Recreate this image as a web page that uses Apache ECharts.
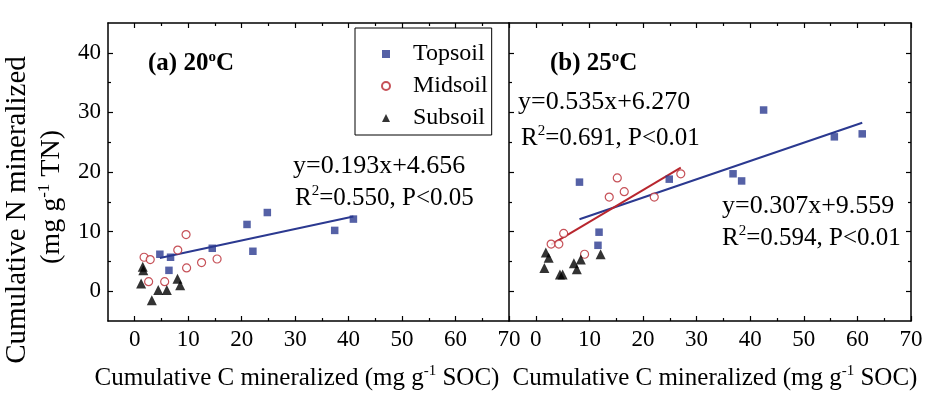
<!DOCTYPE html>
<html>
<head>
<meta charset="utf-8">
<script src="https://cdn.jsdelivr.net/npm/echarts@6/dist/echarts.min.js"></script>
<style>
html, body { margin: 0; padding: 0; background: #fff; }
#chart { width: 935px; height: 398px; }
</style>
</head>
<body>
<div id="chart"></div>
<script>
// tick positions
var xTicks = [0, 10, 20, 30, 40, 50, 60, 70];
var xMinor = [5, 15, 25, 35, 45, 55, 65];
var yTicks = [0, 10, 20, 30, 40];
var yMinor = [5, 15, 25, 35];

// (a) 20 C
var topA = [[4.7, 6.2], [6.7, 5.7], [6.4, 3.5], [14.5, 7.2], [21.0, 11.2], [24.8, 13.2], [22.1, 6.7], [37.4, 10.2], [40.9, 12.1]];
var midA = [[1.75, 5.7], [2.9, 5.3], [2.6, 1.6], [5.6, 1.6], [8.05, 6.9], [9.6, 9.5], [9.7, 3.9], [12.5, 4.8], [15.4, 5.4]];
var subA = [[1.5, 4.1], [1.6, 3.5], [1.2, 1.3], [3.2, -1.5], [4.4, 0.2], [6.0, 0.2], [8.0, 2.1], [8.5, 1.0]];

// (b) 25 C
var topB = [[8.15, 18.3], [11.8, 9.9], [11.6, 7.7], [24.9, 18.8], [42.5, 30.4], [55.7, 25.9], [60.9, 26.4], [36.8, 19.7], [38.4, 18.5]];
var midB = [[2.86, 7.9], [4.3, 7.9], [5.2, 9.7], [9.1, 6.2], [13.7, 15.8], [15.2, 19.0], [16.5, 16.7], [22.1, 15.8], [27.05, 19.7]];
var subB = [[1.87, 6.5], [2.4, 5.6], [1.6, 3.9], [4.5, 2.8], [5.0, 2.8], [7.1, 4.7], [7.65, 3.7], [8.4, 5.3], [12.1, 6.2]];

// fitted lines: slope, intercept, x from, x to
var fitA = [0.193, 4.656, 4.7, 40.9];
var fitBTop = [0.307, 9.559, 8.15, 60.9];
var fitBMid = [0.535, 6.270, 2.86, 27.05];

var serif = '"Liberation Serif", "Times New Roman", Times, serif';
var blue = '#2B3990';
var red = '#B8262E';

function fitLine(f) {
	return [[f[2], f[0] * f[2] + f[1]], [f[3], f[0] * f[3] + f[1]]];
}

function axis(grid, pos, range, ticks, len, showLine, labels) {
	return {
		type: 'value', gridIndex: grid, position: pos,
		min: range[0], max: range[1], interval: 5,
		axisLine: { show: showLine, onZero: false, lineStyle: { color: '#000', width: 1.5 } },
		axisTick: { show: true, inside: true, length: len, customValues: ticks, lineStyle: { color: '#000', width: 1.2 } },
		axisLabel: {
			show: !!labels, customValues: labels || ticks, margin: 7,
			color: '#000', fontFamily: serif, fontSize: 23
		},
		splitLine: { show: false }
	};
}

var xr = [-5, 70], yr = [-5, 45];
var xAxes = [], yAxes = [];
[0, 1].forEach(function(g) {
	xAxes.push(axis(g, 'bottom', xr, xTicks, 5, true, xTicks));
	xAxes.push(axis(g, 'bottom', xr, xMinor, 3, false));
	xAxes.push(axis(g, 'top', xr, xTicks, 5, true));
	xAxes.push(axis(g, 'top', xr, xMinor, 3, false));
	yAxes.push(axis(g, 'left', yr, yTicks, 5, true, g === 0 ? yTicks : null));
	yAxes.push(axis(g, 'left', yr, yMinor, 3, false));
	var r1 = axis(g, 'right', yr, yTicks, 5, true);
	var r2 = axis(g, 'right', yr, yMinor, 3, false);
	if (g === 0) { r1.show = false; r2.show = false; }
	yAxes.push(r1);
	yAxes.push(r2);
});

function pts(name, data, g) {
	var s = { name: name, type: 'scatter', data: data, xAxisIndex: g * 4, yAxisIndex: g * 4, z: 3 };
	if (name === 'Topsoil') { s.symbol = 'rect'; s.symbolSize = 7.5; s.itemStyle = { color: blue }; }
	if (name === 'Midsoil') { s.symbol = 'circle'; s.symbolSize = 8; s.itemStyle = { color: '#fff', borderColor: red, borderWidth: 1.2 }; }
	if (name === 'Subsoil') { s.symbol = 'triangle'; s.symbolSize = 10; s.itemStyle = { color: '#000' }; }
	return s;
}

function fit(f, g, color) {
	return {
		type: 'line', data: fitLine(f), xAxisIndex: g * 4, yAxisIndex: g * 4,
		symbol: 'none', lineStyle: { color: color, width: 2 }, z: 2, silent: true
	};
}

function label(x, y, str, size, bold, rot, align) {
	var w = bold ? 'bold' : 'normal';
	return {
		type: 'text', x: x, y: y, rotation: rot || 0, z: 10,
		style: {
			text: str, fontFamily: serif, fontSize: size, lineHeight: size + 4,
			fontWeight: w, fill: '#000',
			align: align || 'left', verticalAlign: 'middle',
			rich: {
				n: { fontFamily: serif, fontSize: size, lineHeight: size + 4, fontWeight: w, fill: '#000' },
				s: { fontFamily: serif, fontSize: Math.round(size * 0.6), lineHeight: 14, fontWeight: w, verticalAlign: 'top', fill: '#000' }
			}
		}
	};
}

var xTitle = '{n|Cumulative C mineralized (mg g}{s|-1}{n| SOC)}';

var option = {
	backgroundColor: '#fff',
	animation: false,
	grid: [
		{ left: 108, top: 23, width: 401, height: 298 },
		{ left: 509, top: 23, width: 402, height: 298 }
	],
	xAxis: xAxes,
	yAxis: yAxes,
	legend: {
		data: ['Topsoil', 'Midsoil', 'Subsoil'],
		orient: 'vertical', left: 355, top: 28,
		padding: [14, 4, 5, 26],
		itemWidth: 8, itemHeight: 8, itemGap: 8,
		borderColor: '#000', borderWidth: 1,
		selectedMode: false,
		textStyle: { fontFamily: serif, fontSize: 24, color: '#000', lineHeight: 22, padding: [0, 0, 0, 18] }
	},
	graphic: [
		label(148, 64, '{n|(a) 20}{s|o}{n|C}', 25, true),
		label(550, 64, '{n|(b) 25}{s|o}{n|C}', 25, true),
		label(293, 166, '{n|y=0.193x+4.656}', 26),
		label(295, 198, '{n|R}{s|2}{n|=0.550, P<0.05}', 25),
		label(518, 102, '{n|y=0.535x+6.270}', 26),
		label(521, 138, '{n|R}{s|2}{n|=0.691, P<0.01}', 25),
		label(722, 206, '{n|y=0.307x+9.559}', 26),
		label(722, 238, '{n|R}{s|2}{n|=0.594, P<0.01}', 25),
		label(17, 210, '{n|Cumulative N mineralized}', 29, false, Math.PI / 2, 'center'),
		label(52, 197, '{n|(mg g}{s|-1}{n| TN)}', 28, false, Math.PI / 2, 'center'),
		label(297, 378, xTitle, 25, false, 0, 'center'),
		label(715, 378, xTitle, 25, false, 0, 'center')
	],
	series: [
		fit(fitA, 0, blue),
		fit(fitBTop, 1, blue),
		fit(fitBMid, 1, red),
		pts('Topsoil', topA, 0),
		pts('Midsoil', midA, 0),
		pts('Subsoil', subA, 0),
		pts('Topsoil', topB, 1),
		pts('Midsoil', midB, 1),
		pts('Subsoil', subB, 1)
	]
};

var myChart = echarts.init(document.getElementById('chart'));
myChart.setOption(option);
</script>
</body>
</html>
